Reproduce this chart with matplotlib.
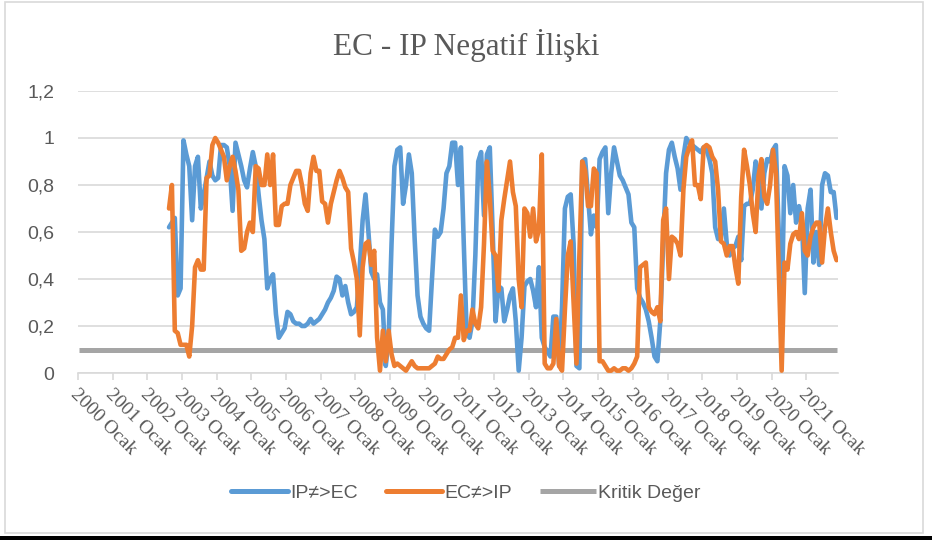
import matplotlib
matplotlib.use("Agg")
import matplotlib.pyplot as plt
from matplotlib.patches import Rectangle
from matplotlib.ticker import FuncFormatter, FixedLocator

# kategori ekseni: 2000 Ocak .. 2021 Kasım (aylık)
months = ["Ocak", "Şubat", "Mart", "Nisan", "Mayıs", "Haziran",
          "Temmuz", "Ağustos", "Eylül", "Ekim", "Kasım", "Aralık"]
years = list(range(2000, 2022))
categories = [f"{y} {m}" for y in years for m in months][:263]
tick_labels = [f"{y} Ocak" for y in years]

# seriler 2002 Ağustos'tan başlıyor
series_start = "2002 Ağustos"

ip_ec = [0.62, 0.64, 0.66, 0.33, 0.36, 0.99, 0.93, 0.88, 0.65, 0.88,
         0.92, 0.70, 0.76, 0.83, 0.90, 0.84, 0.82, 0.83, 0.97, 0.97,
         0.96, 0.88, 0.69, 0.98, 0.93, 0.88, 0.82, 0.79, 0.87, 0.94,
         0.88, 0.76, 0.65, 0.57, 0.36, 0.40, 0.42, 0.25, 0.15, 0.17,
         0.19, 0.26, 0.25, 0.22, 0.21, 0.21, 0.20, 0.20, 0.21, 0.23,
         0.21, 0.22, 0.23, 0.25, 0.27, 0.30, 0.32, 0.35, 0.41, 0.40,
         0.33, 0.37, 0.30, 0.25, 0.26, 0.28, 0.45, 0.65, 0.76, 0.60,
         0.43, 0.40, 0.42, 0.30, 0.27, 0.03, 0.15, 0.55, 0.88, 0.95,
         0.96, 0.72, 0.80, 0.93, 0.85, 0.57, 0.33, 0.24, 0.21, 0.19,
         0.18, 0.40, 0.61, 0.58, 0.60, 0.70, 0.85, 0.88, 0.98, 0.98,
         0.80, 0.96, 0.55, 0.17, 0.15, 0.22, 0.50, 0.90, 0.94, 0.67,
         0.93, 0.96, 0.60, 0.22, 0.37, 0.36, 0.22, 0.27, 0.33, 0.36,
         0.22, 0.01, 0.15, 0.37, 0.39, 0.40, 0.35, 0.28, 0.45, 0.15,
         0.11, 0.09, 0.07, 0.24, 0.24, 0.03, 0.28, 0.70, 0.75, 0.76,
         0.55, 0.03, 0.02, 0.90, 0.91, 0.75, 0.59, 0.67, 0.62, 0.91,
         0.94, 0.96, 0.68, 0.85, 0.96, 0.90, 0.84, 0.82, 0.79, 0.76,
         0.64, 0.62, 0.36, 0.32, 0.30, 0.27, 0.22, 0.15, 0.07, 0.05,
         0.22, 0.55, 0.85, 0.95, 0.98, 0.92, 0.87, 0.78, 0.92, 1.00,
         0.98, 0.97, 0.96, 0.95, 0.94, 0.96, 0.95, 0.91, 0.85, 0.62,
         0.57, 0.57, 0.70, 0.55, 0.50, 0.53, 0.54, 0.58, 0.48, 0.71,
         0.72, 0.72, 0.78, 0.90, 0.84, 0.70, 0.85, 0.91, 0.90, 0.95,
         0.97, 0.60, 0.25, 0.88, 0.84, 0.68, 0.80, 0.64, 0.71, 0.65,
         0.34, 0.70, 0.78, 0.47, 0.60, 0.46, 0.80, 0.85, 0.84, 0.77,
         0.77, 0.66]

ec_ip = [0.70, 0.80, 0.18, 0.17, 0.12, 0.12, 0.12, 0.07, 0.20, 0.45,
         0.48, 0.44, 0.44, 0.83, 0.84, 0.97, 1.00, 0.98, 0.95, 0.92,
         0.82, 0.88, 0.92, 0.86, 0.78, 0.52, 0.53, 0.60, 0.64, 0.60,
         0.88, 0.87, 0.80, 0.80, 0.93, 0.80, 0.93, 0.63, 0.63, 0.71,
         0.72, 0.72, 0.80, 0.83, 0.86, 0.86, 0.80, 0.72, 0.69, 0.85,
         0.92, 0.86, 0.86, 0.73, 0.72, 0.64, 0.72, 0.77, 0.82, 0.86,
         0.83, 0.79, 0.77, 0.53, 0.47, 0.40, 0.16, 0.45, 0.55, 0.56,
         0.46, 0.52, 0.15, 0.01, 0.18, 0.05, 0.18, 0.08, 0.03, 0.04,
         0.03, 0.02, 0.01, 0.03, 0.05, 0.03, 0.02, 0.02, 0.02, 0.02,
         0.02, 0.03, 0.04, 0.07, 0.06, 0.06, 0.08, 0.10, 0.11, 0.15,
         0.15, 0.33, 0.14, 0.18, 0.18, 0.27, 0.21, 0.19, 0.28, 0.55,
         0.90, 0.75, 0.52, 0.50, 0.35, 0.65, 0.74, 0.82, 0.90, 0.77,
         0.71, 0.40, 0.28, 0.70, 0.68, 0.58, 0.70, 0.56, 0.61, 0.93,
         0.04, 0.02, 0.02, 0.04, 0.23, 0.03, 0.01, 0.27, 0.50, 0.56,
         0.30, 0.04, 0.50, 0.90, 0.86, 0.71, 0.71, 0.87, 0.85, 0.05,
         0.05, 0.03, 0.01, 0.01, 0.02, 0.01, 0.01, 0.02, 0.02, 0.01,
         0.02, 0.04, 0.07, 0.45, 0.46, 0.47, 0.28, 0.26, 0.25, 0.28,
         0.22, 0.65, 0.70, 0.40, 0.58, 0.57, 0.55, 0.50, 0.78, 0.92,
         0.96, 0.99, 0.80, 0.80, 0.74, 0.96, 0.97, 0.96, 0.92, 0.90,
         0.78, 0.56, 0.55, 0.50, 0.54, 0.54, 0.45, 0.38, 0.75, 0.95,
         0.88, 0.80, 0.68, 0.60, 0.84, 0.91, 0.75, 0.72, 0.80, 0.95,
         0.85, 0.44, 0.01, 0.47, 0.44, 0.55, 0.59, 0.60, 0.57, 0.68,
         0.52, 0.50, 0.58, 0.62, 0.64, 0.64, 0.47, 0.62, 0.70, 0.60,
         0.52, 0.48]

kritik_deger = 0.1

BLUE = "#5B9BD5"
ORANGE = "#ED7D31"
GRAY = "#A5A5A5"
GRID = "#D9D9D9"
TEXT = "#595959"
SANS = ["Liberation Sans", "DejaVu Sans"]
SERIF = ["Liberation Serif", "DejaVu Serif"]

n = len(categories)
x_all = list(range(n))
start = categories.index(series_start)
x_ser = x_all[start:start + len(ip_ec)]

fig = plt.figure(figsize=(9.32, 5.40), dpi=100)
ax = fig.add_axes([78 / 932, 1 - 373 / 540, 760 / 932, 282 / 540])

lw = 3.3
ax.plot(x_all, [kritik_deger] * n, color=GRAY, lw=3.6, solid_capstyle="butt", label="Kritik Değer", zorder=2)
ax.plot(x_ser, ip_ec, color=BLUE, lw=lw, solid_joinstyle="round", solid_capstyle="round", label="IP≠>EC", zorder=3)
ax.plot(x_ser, ec_ip, color=ORANGE, lw=lw, solid_joinstyle="round", solid_capstyle="round", label="EC≠>IP", zorder=4)

ax.set_xlim(-0.5, n - 0.5)
ax.set_ylim(0, 1.2)
ax.set_yticks([0, 0.2, 0.4, 0.6, 0.8, 1.0, 1.2])
ax.yaxis.set_major_formatter(FuncFormatter(lambda v, p: f"{v:g}".replace(".", ",")))
ax.grid(axis="y", color=GRID, lw=1.2)
ax.set_axisbelow(True)
for s in ["top", "right", "left"]:
    ax.spines[s].set_visible(False)
ax.spines["bottom"].set_color(GRID)
ax.spines["bottom"].set_linewidth(1.2)

# yıl sınırlarında tik, Ocak kategorisinde etiket
year_pos = [categories.index(t) for t in tick_labels]
ax.xaxis.set_major_locator(FixedLocator([p - 0.5 for p in year_pos]))
ax.tick_params(axis="x", which="major", length=5, color=GRID, width=1.2, labelbottom=False)
ax.tick_params(axis="x", which="minor", length=0, pad=9)
ax.set_xticks(year_pos, minor=True)
ax.set_xticklabels(tick_labels, minor=True, rotation=-45, ha="left", va="top",
                   rotation_mode="anchor", color=TEXT, fontsize=14, family=SERIF)
ax.tick_params(axis="y", length=0, pad=17, labelcolor=TEXT, labelsize=14)
for lab in ax.get_yticklabels():
    lab.set_family(SANS)

fig.text(0.5, 1 - 45 / 540, "EC - IP Negatif İlişki", ha="center", va="center",
         fontsize=22.5, color=TEXT, family=SERIF)

handles, labels = ax.get_legend_handles_labels()
order = [1, 2, 0]
leg = fig.legend([handles[i] for i in order], [labels[i] for i in order],
                 loc="center", bbox_to_anchor=(0.5, 1 - 493 / 540), ncol=3, frameon=False,
                 handlelength=2.9, handletextpad=0.1, columnspacing=1.45,
                 prop={"family": SANS, "size": 14})
for t in leg.get_texts():
    t.set_color(TEXT)
for h in leg.get_lines():
    h.set_linewidth(3.6)

# çerçeve
fig.patches.append(Rectangle((5 / 932, 1 - 533 / 540), 918 / 932, 531 / 540,
                             transform=fig.transFigure, fill=False, edgecolor=GRID, lw=1.2))
fig.patches.append(Rectangle((0, 0), 1, 4 / 540, transform=fig.transFigure,
                             facecolor="black", edgecolor="none"))

fig.savefig("out.png", dpi=100)
